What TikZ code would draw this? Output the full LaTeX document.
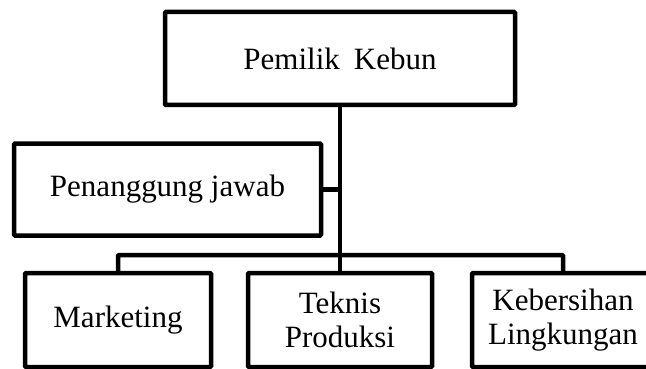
\documentclass[tikz,border=0pt]{standalone}
\usepackage{fontspec}
\setmainfont{Liberation Serif}
\usepackage{tikz}
\newcommand{\orgbox}[5] {\node at (#1) (#2) [rectangle, draw, line width=4.5pt, rounded corners=1pt, minimum width=#3pt, minimum height=#4pt, inner sep=0pt, align=center, font=\fontsize{31}{34}\selectfont] {#5};}
\newcommand{\orgline}[2] {\draw [line width=4.5pt] (#1) -- (#2);}
\newcommand{\orgbranch}[2] {\draw [line width=4.5pt] (#1) -- (#1 -| #2);}
\begin{document}
\begin{tikzpicture}[x=1pt, y=-1pt]
\useasboundingbox (0,0) rectangle (646,369);
\orgbox{340,58.5}{pemilik}{350}{93}{Pemilik\hspace{0.2em} Kebun}
\orgbox{167.5,189.5}{penanggung}{307}{92}{Penanggung jawab}
\orgbox{118,320}{marketing}{186}{94}{Marketing}
\orgbox{340,320}{teknis}{184}{94}{Teknis\\Produksi}
\orgbox{563,320}{kebersihan}{182}{94}{Kebersihan\\Lingkungan}
\coordinate (bus) at (340,255);
\orgline{pemilik.south}{teknis.north}
\orgbranch{penanggung.east}{pemilik.south}
\draw [line width=4.5pt, rounded corners=1pt] (marketing.north) |- (bus) -| (kebersihan.north);
\end{tikzpicture}
\end{document}
